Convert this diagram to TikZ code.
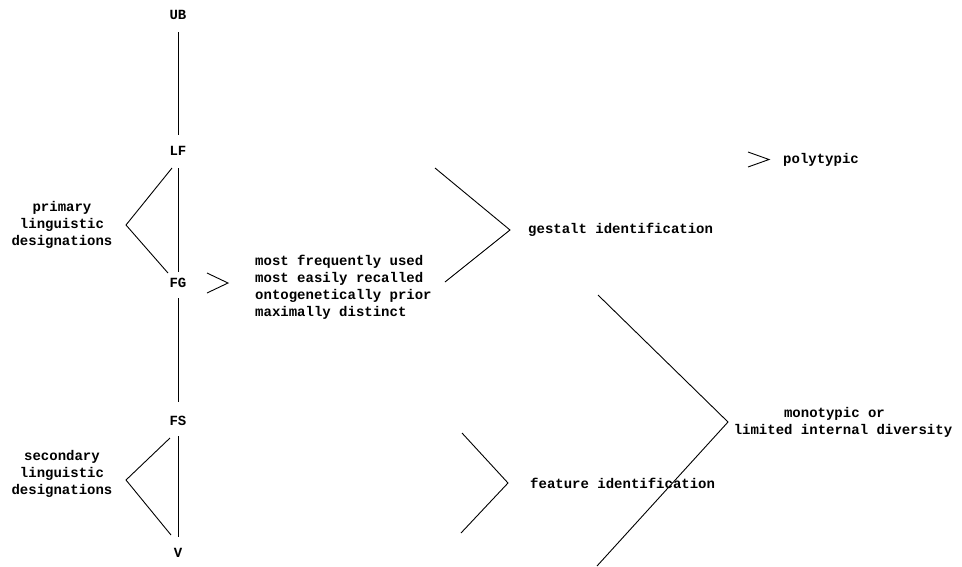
\documentclass[tikz,border=0pt]{standalone}
\usepackage{fontspec}
\newfontfamily\tw{Liberation Mono}
\begin{document}
\begin{tikzpicture}[x=1pt,y=-1pt,
  lbl/.style={font=\tw\bfseries\fontsize{14}{17}\selectfont, inner sep=0pt},
  ln/.style={line width=0.9pt, line join=miter}]
\useasboundingbox (0,0) rectangle (962,566);
% vertical chain
\node[lbl] (UB) at (178,15) {UB};
\node[lbl] (LF) at (178,151) {LF};
\node[lbl] (FG) at (178,283) {FG};
\node[lbl] (FS) at (178,421) {FS};
\node[lbl] (V)  at (178,553) {V};
\draw[ln, shorten <=17pt, shorten >=16pt] (UB.center) -- (LF.center);
\draw[ln, shorten <=17pt, shorten >=11pt] (LF.center) -- (FG.center);
\draw[ln, shorten <=15pt, shorten >=19pt] (FG.center) -- (FS.center);
\draw[ln, shorten <=15pt, shorten >=16pt] (FS.center) -- (V.center);
% primary
\node[lbl, align=center] (prim) at (62,225) {primary\\linguistic\\designations};
\coordinate (pu) at (172,168);
\coordinate (pa) at (126,225);
\coordinate (pl) at (168,273);
\draw[ln] (pu) -- (pa) -- (pl);
% secondary
\node[lbl, align=center] (sec) at (62,474) {secondary\\linguistic\\designations};
\coordinate (su) at (170,438);
\coordinate (sa) at (126,480);
\coordinate (sl) at (171,535);
\draw[ln] (su) -- (sa) -- (sl);
% FG > list
\coordinate (fu) at (207,273);
\coordinate (fa) at (228,283);
\coordinate (fl) at (207,293);
\draw[ln] (fu) -- (fa) -- (fl);
\node[lbl, align=left, anchor=west] (most) at (255,287) {most frequently used\\most easily recalled\\ontogenetically prior\\maximally distinct};
% gestalt
\coordinate (gu) at (435,168);
\coordinate (ga) at (510,230);
\coordinate (gl) at (445,282);
\draw[ln] (gu) -- (ga) -- (gl);
\node[lbl, anchor=west] (gest) at (528,230) {gestalt identification};
% polytypic
\coordinate (yu) at (748,152);
\coordinate (ya) at (769,159.5);
\coordinate (yl) at (748,167);
\draw[ln] (yu) -- (ya) -- (yl);
\node[lbl, anchor=west] (poly) at (783,160) {polytypic};
% feature
\coordinate (eu) at (462,433);
\coordinate (ea) at (508,483);
\coordinate (el) at (461,533);
\draw[ln] (eu) -- (ea) -- (el);
\node[lbl, anchor=west] (feat) at (530,483) {feature identification};
% big bracket
\coordinate (bu) at (598,295);
\coordinate (ba) at (728,422);
\coordinate (bl) at (597,566);
\draw[ln] (bu) -- (ba) -- (bl);
\node[lbl, align=center] (mono) at (843,422) {monotypic or\hspace*{17pt}\\limited internal diversity};
\end{tikzpicture}
\end{document}
